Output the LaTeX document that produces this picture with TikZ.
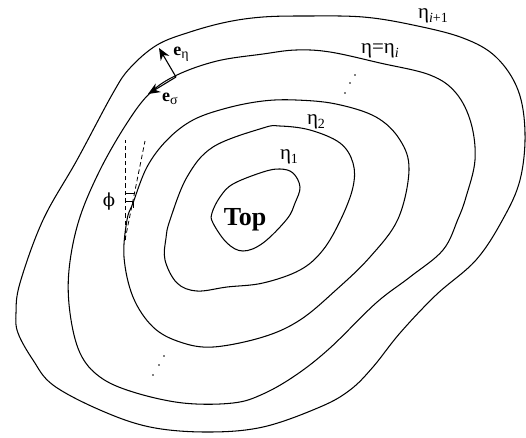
\documentclass[tikz,border=0pt]{standalone}
\usepackage{fontspec}
\setmainfont{Liberation Serif}
\newfontfamily\symfont{DejaVu Serif}
\usetikzlibrary{arrows.meta}
\tikzset{x=1pt,y=-1pt,
 contour/.style={draw=black,line width=1.05pt},
 guide/.style={draw=black,line width=0.8pt,dash pattern=on 4.5pt off 3pt},
 vec/.style={draw=black,line width=1.1pt,-{Stealth[length=12pt,width=10pt]}},
 lab/.style={inner sep=0pt,font=\fontsize{21}{21}\selectfont},
 blab/.style={inner sep=0pt,font=\fontsize{18}{18}\selectfont\bfseries},
 dotmark/.style={circle,fill=black,inner sep=0pt,minimum size=1.9pt}}
\begin{document}
\begin{tikzpicture}
\useasboundingbox (0,0) rectangle (526,437);
\path[contour] plot[smooth cycle,tension=0.6] coordinates {(43,220)(77,160)(113,93)(130,68)(157,45)(190,32)(227,22)(263,17)(306,16)(363,17)(413,25)(463,38)(496,57)(518,90)(525,133)(520,180)(503,219)(476,260)(436,295)(400,333)(373,367)(350,390)(320,407)(263,427)(207,432)(150,427)(100,410)(53,385)(33,360)(18,333)(16,313)(20,283)};
\path[contour] plot[smooth cycle,tension=0.6] coordinates {(79,220)(100,170)(127,123)(150,93)(177,75)(217,61)(263,54)(296,50)(330,52)(380,63)(430,75)(456,93)(471,123)(475,160)(466,197)(458,219)(443,250)(410,277)(376,303)(330,348)(296,375)(263,394)(233,403)(183,403)(133,392)(100,377)(80,353)(70,313)(69,270)};
\path[contour] plot[smooth cycle,tension=0.6] coordinates {(127,220)(133,203)(147,167)(167,140)(193,120)(227,108)(263,101)(296,100)(336,104)(376,117)(400,140)(409,170)(398,219)(370,257)(336,290)(300,320)(263,337)(213,347)(180,342)(153,327)(133,297)(124,257)};
\path[contour] plot[smooth cycle,tension=0.6] coordinates {(170,220)(187,177)(213,147)(263,128)(280,126)(310,130)(340,143)(353,163)(353,187)(341,219)(323,250)(300,270)(263,283)(227,287)(197,291)(177,283)(165,260)(166,238)};
\path[contour] plot[smooth cycle,tension=0.6] coordinates {(212,213)(220,197)(233,184)(263,172)(280,169)(293,173)(300,187)(295,203)(287,219)(263,243)(243,251)(227,243)(213,223)};
\coordinate (base) at (176,77);
\coordinate (en) at (159,48);
\coordinate (es) at (148,94);
\draw[vec] (base) -- (en);
\draw[vec] (base) -- (es);
\coordinate (p0) at (125,240);
\coordinate (g1) at (125,140);
\coordinate (g2) at (145,141);
\draw[guide] (p0) -- (g1);
\draw[guide] (p0) -- (g2);
\coordinate (t1) at (125,193);
\coordinate (t2) at (135,193);
\coordinate (t3) at (125,201);
\coordinate (t4) at (133,201);
\coordinate (t5) at (133,208);
\draw[line width=0.8pt] (t1) -- (t2) (t3) -- (t4) -- (t5);
\node[lab,anchor=center] (phi) at (109,202) {\symfont\fontsize{18}{18}\selectfont ϕ};
\node[anchor=center,inner sep=0pt] (top) at (245,220) {\fontsize{26}{26}\selectfont\bfseries Top};
\node[lab,anchor=center] (h1) at (289,157) {η\raisebox{-4pt}{\fontsize{14}{14}\selectfont 1}};
\node[lab,anchor=center] (h2) at (316,122) {η\raisebox{-4pt}{\fontsize{14}{14}\selectfont 2}};
\node[lab,anchor=center] (hi) at (380,51) {η=η\raisebox{-4pt}{\fontsize{14}{14}\selectfont\itshape i}};
\node[lab,anchor=center] (hp) at (433,16) {η\raisebox{-4pt}{\fontsize{14}{14}\selectfont\itshape i\upshape +1}};
\node[blab,anchor=center] (een) at (181,54) {e\raisebox{-3pt}{\fontsize{14}{14}\mdseries\selectfont η}};
\node[blab,anchor=center] (ees) at (170,99) {e\raisebox{-3pt}{\fontsize{14}{14}\mdseries\selectfont σ}};
\node[dotmark] (d1) at (345,93) {};
\node[dotmark] (d2) at (350,83) {};
\node[dotmark] (d3) at (355,75) {};
\node[dotmark] (d4) at (153,375) {};
\node[dotmark] (d5) at (159,365) {};
\node[dotmark] (d6) at (164,356) {};
\end{tikzpicture}
\end{document}
